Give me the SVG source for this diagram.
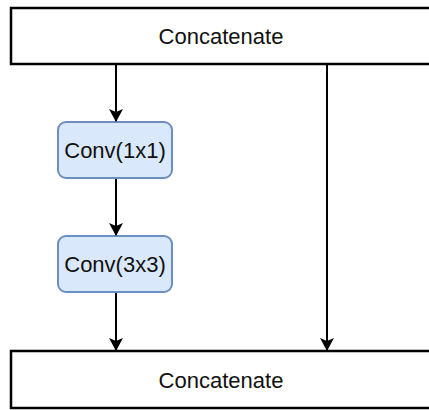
<svg xmlns="http://www.w3.org/2000/svg" width="429" height="410" viewBox="0 0 429 410">
<defs>
<style>
.cat{fill:#ffffff;stroke:#000000;stroke-width:2.5}
.conv{fill:#dae8fc;stroke:#6c8ebf;stroke-width:2}
.t{font-family:"Liberation Sans",Arial,sans-serif;font-size:22px;fill:#111;text-anchor:middle;dominant-baseline:central}
.e{stroke:#000;stroke-width:2;fill:none}
</style>
<marker id="ah" markerWidth="14" markerHeight="14" viewBox="0 0 14 14" refX="12" refY="7" orient="auto" markerUnits="userSpaceOnUse">
<path d="M0,0 L13,7 L0,14 L3,7 Z" fill="#000"/>
</marker>
</defs>
<g id="concat_top"><rect class="cat" x="11" y="8" width="422" height="56"/><text class="t" x="221" y="36">Concatenate</text></g>
<g id="conv1"><rect class="conv" x="58" y="122" width="114" height="56" rx="8"/><text class="t" x="115" y="150">Conv(1x1)</text></g>
<g id="conv3"><rect class="conv" x="58" y="236" width="114" height="56" rx="8"/><text class="t" x="115" y="264">Conv(3x3)</text></g>
<g id="concat_bottom"><rect class="cat" x="11" y="351" width="422" height="57"/><text class="t" x="221" y="380">Concatenate</text></g>
<g id="connectors">
<line class="e" x1="116" y1="65" x2="116" y2="121" marker-end="url(#ah)"/>
<line class="e" x1="116" y1="179" x2="116" y2="235" marker-end="url(#ah)"/>
<line class="e" x1="116" y1="293" x2="116" y2="350" marker-end="url(#ah)"/>
<line class="e" x1="327" y1="65" x2="327" y2="350" marker-end="url(#ah)"/>
</g>
</svg>
